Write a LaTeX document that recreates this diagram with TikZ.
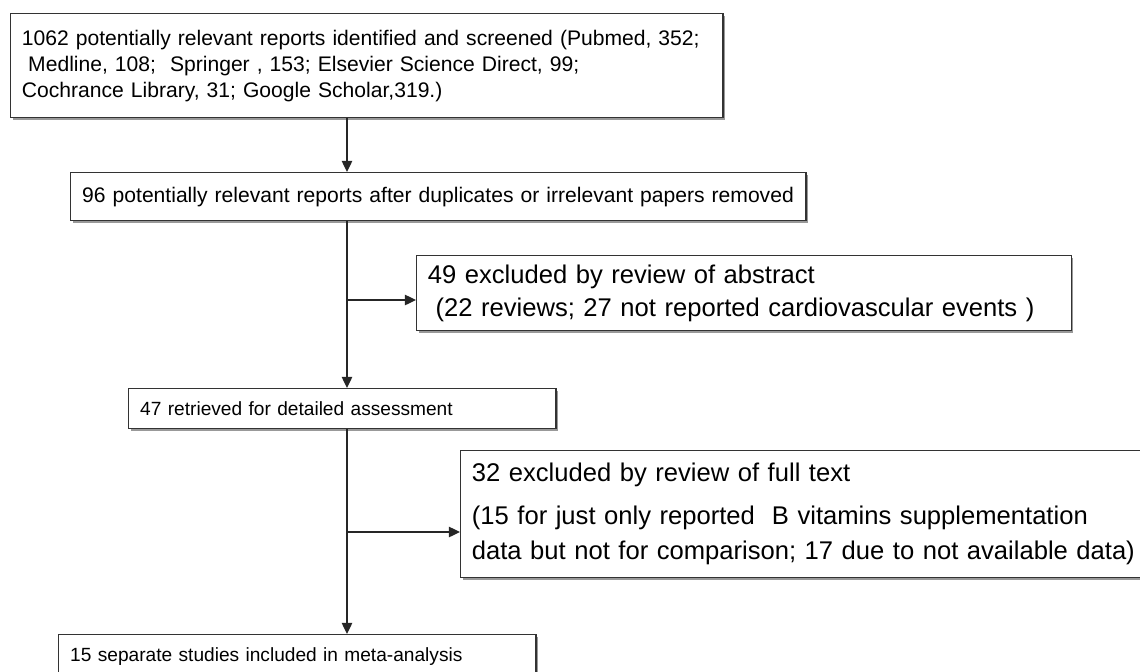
\documentclass[tikz,border=0pt]{standalone}
\usepackage{fontspec}
\setmainfont{Liberation Sans}
\usetikzlibrary{arrows.meta, shadows}
\tikzset{
    flowbox/.style={draw=black!80, line width=1pt, fill=white, anchor=north west,
        align=left, inner xsep=.28cm, inner ysep=0pt,
        drop shadow={shadow xshift=.05cm, shadow yshift=-.05cm, fill=black!40,
            opacity=1}},
    smalltext/.style={font=\fontsize{15}{18.5}\selectfont},
    shorttext/.style={font=\fontsize{13.6}{17}\selectfont},
    bigtext/.style={font=\fontsize{18.2}{23.5}\selectfont},
    flowarrow/.style={-{Triangle[length=8pt, width=7.5pt]}, line width=1pt,
        draw=black!85},
}

\begin{document}
\begin{tikzpicture}[x=.025cm, y=-.025cm]
        \useasboundingbox (0, 0) rectangle (1140, 672);
        \clip (0, 0) rectangle (1140, 672);
        \coordinate (trunk) at (347, 0);
        \coordinate (abstractfork) at (347, 300);
        \coordinate (fulltextfork) at (347, 532);
        \node[flowbox, smalltext, minimum width=17.8cm, minimum height=2.6cm,
            text width=17.24cm] (screened) at (10, 13)
            {1062 potentially relevant reports identified and screened (Pubmed, 352;\\
            \hspace*{.3em}Medline, 108;\ \ Springer , 153; Elsevier Science Direct, 99;\\
            Cochrance Library, 31; Google Scholar,319.)};
        \node[flowbox, smalltext, minimum width=18.375cm, minimum height=1.2cm,
            text width=17.8cm] (deduped) at (70, 172)
            {96 potentially relevant reports after duplicates or irrelevant papers removed};
        \node[flowbox, bigtext, minimum width=16.35cm, minimum height=1.875cm,
            text width=15.8cm] (abstractout) at (416, 255)
            {49 excluded by review of abstract\\
            \hspace*{.3em}(22 reviews; 27 not reported cardiovascular events )};
        \node[flowbox, shorttext, minimum width=10.675cm, minimum height=1cm,
            text width=10.1cm] (retrieved) at (128, 388)
            {47 retrieved for detailed assessment};
        \node[flowbox, minimum width=17.4cm, minimum height=3.175cm,
            text width=17.6cm, font=\fontsize{18.2}{24.9}\selectfont]
            (fulltextout) at (460, 450)
            {32 excluded by review of full text\\[5.7pt]
            (15 for just only reported\ \ B vitamins supplementation\\
            data but not for comparison; 17 due to not available data)};
        \node[flowbox, shorttext, minimum width=11.925cm, minimum height=1.1cm,
            text width=11.35cm] (included) at (58, 634)
            {15 separate studies included in meta-analysis};
        % main line and the two exclusions
        \draw[flowarrow] (screened.south -| trunk) -- (deduped.north -| trunk);
        \draw[flowarrow] (deduped.south -| trunk) -- (retrieved.north -| trunk);
        \draw[flowarrow] (abstractfork) -- (abstractfork -| abstractout.west);
        \draw[flowarrow] (retrieved.south -| trunk) -- (included.north -| trunk);
        \draw[flowarrow] (fulltextfork) -- (fulltextfork -| fulltextout.west);
    \end{tikzpicture}
\end{document}
